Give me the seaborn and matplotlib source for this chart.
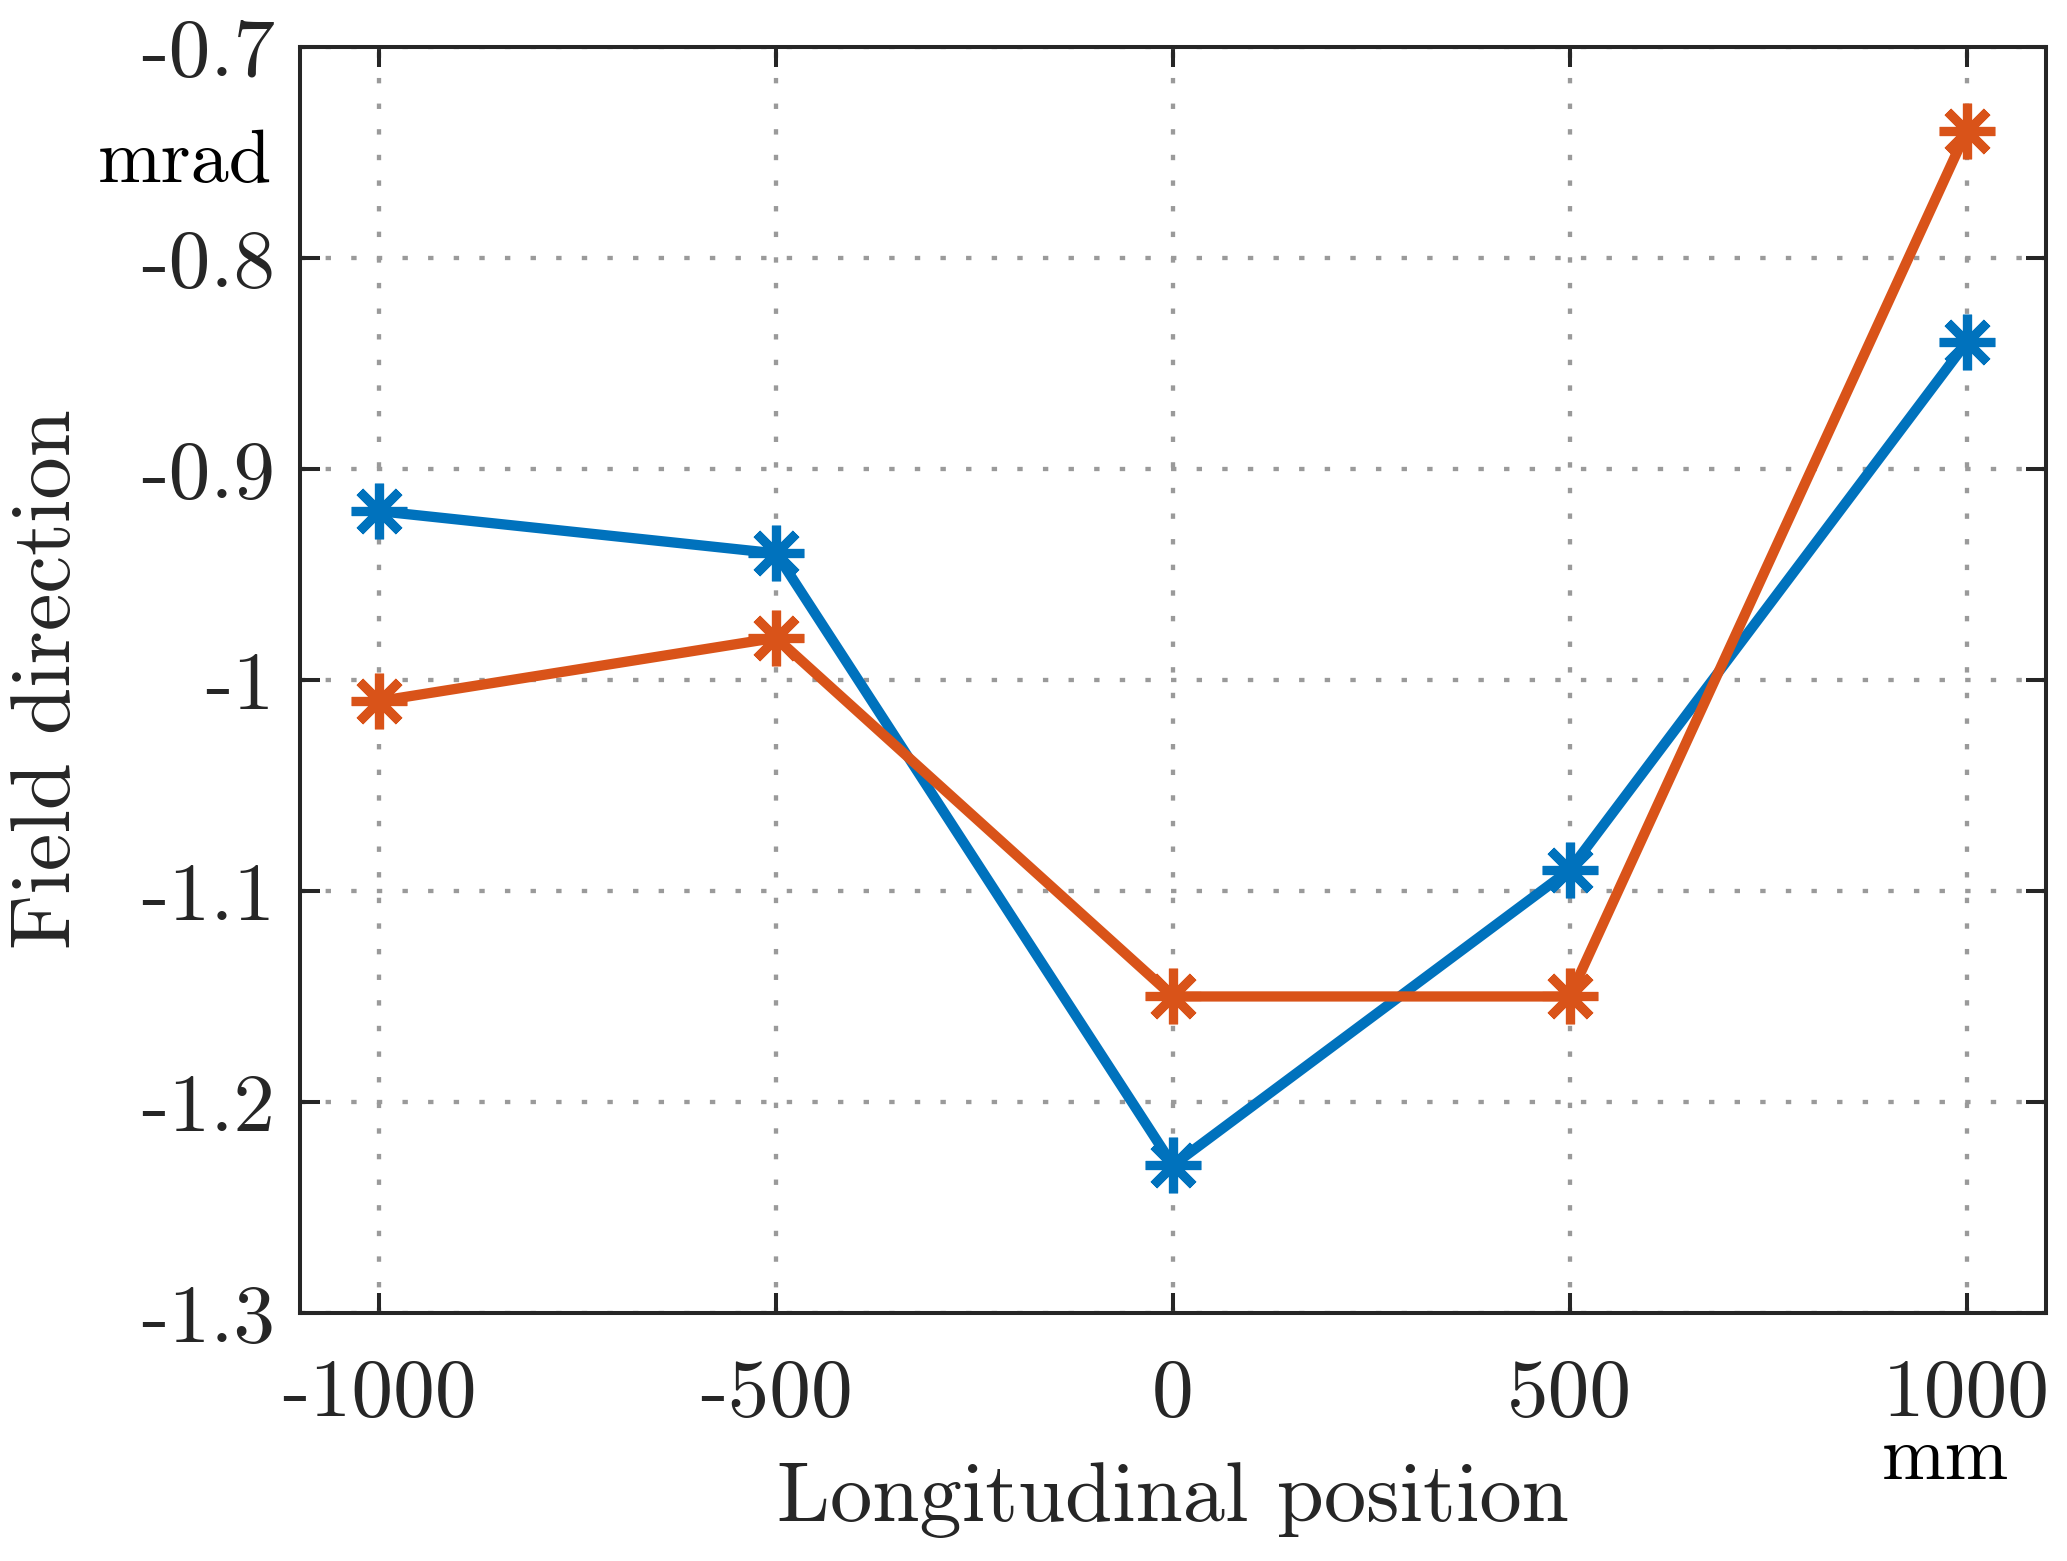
import numpy as np
import pandas as pd
import matplotlib
matplotlib.use("Agg")
import matplotlib.pyplot as plt
import seaborn as sns

# ---- data ----
positions = [-1000, -500, 0, 500, 1000]
series_a = [-0.92, -0.94, -1.23, -1.09, -0.84]
series_b = [-1.01, -0.98, -1.15, -1.15, -0.74]
x_ticks = [-1000, -500, 0, 500, 1000]
x_tick_labels = ["-1000", "-500", "0", "500", "1000"]
y_ticks = [-1.3, -1.2, -1.1, -1.0, -0.9, -0.8, -0.7]
y_tick_labels = ["-1.3", "-1.2", "-1.1", "-1", "-0.9", "-0.8", "-0.7"]

df = pd.DataFrame({
    "pos": positions * 2,
    "val": series_a + series_b,
    "series": ["a"] * len(positions) + ["b"] * len(positions),
})

sns.set_style("ticks")
plt.rcParams["font.family"] = ["cmr10", "DejaVu Serif"]
plt.rcParams["axes.unicode_minus"] = False

DPI = 200
fig = plt.figure(figsize=(2067 / DPI, 1561 / DPI), dpi=DPI)
ax = fig.add_axes([0.1451, 0.1589, 0.8447, 0.8110])

dark = "#262626"
colors = {"a": "#0072BD", "b": "#D95319"}
ast = (8, 2, 0)
for key in ["a", "b"]:
    sub = df[df["series"] == key]
    sns.lineplot(data=sub, x="pos", y="val", ax=ax, color=colors[key],
                 linewidth=3.7, marker=ast, markersize=20,
                 markeredgewidth=3.3, markeredgecolor=colors[key],
                 legend=False, zorder=3)

ax.set_xlim(-1100, 1100)
ax.set_ylim(-1.3, -0.7)
ax.set_xticks(x_ticks)
ax.set_xticklabels(x_tick_labels)
ax.set_yticks(y_ticks)
ax.set_yticklabels(y_tick_labels)

ax.grid(True, color="#9a9a9a", linewidth=1.55, linestyle=(0, (1.25, 4.7)))
ax.set_axisbelow(True)

for s in ax.spines.values():
    s.set_visible(True)
    s.set_color(dark)
    s.set_linewidth(1.45)

ax.tick_params(axis="both", direction="in", length=7.2, width=1.45,
               color=dark, labelcolor=dark, labelsize=30,
               top=True, right=True)
ax.tick_params(axis="y", pad=9.0)
ax.tick_params(axis="x", pad=16.5)

ax.set_xlabel("Longitudinal position", fontsize=30.5, color=dark)
ax.xaxis.label.set_verticalalignment("center")
ax.xaxis.set_label_coords(0.5, -0.148)
ax.set_ylabel("Field direction", fontsize=30.5, color=dark)
ax.yaxis.label.set_verticalalignment("center")
ax.yaxis.set_label_coords(-0.1438, 0.5008)

ax.text(-0.0659, 0.8934, "mrad", transform=ax.transAxes, ha="center",
        va="baseline", fontsize=27.5, color="black")
ax.text(0.9427, -0.131, "mm", transform=ax.transAxes, ha="center",
        va="baseline", fontsize=27.5, color="black")

fig.savefig("out.png", dpi=DPI)
